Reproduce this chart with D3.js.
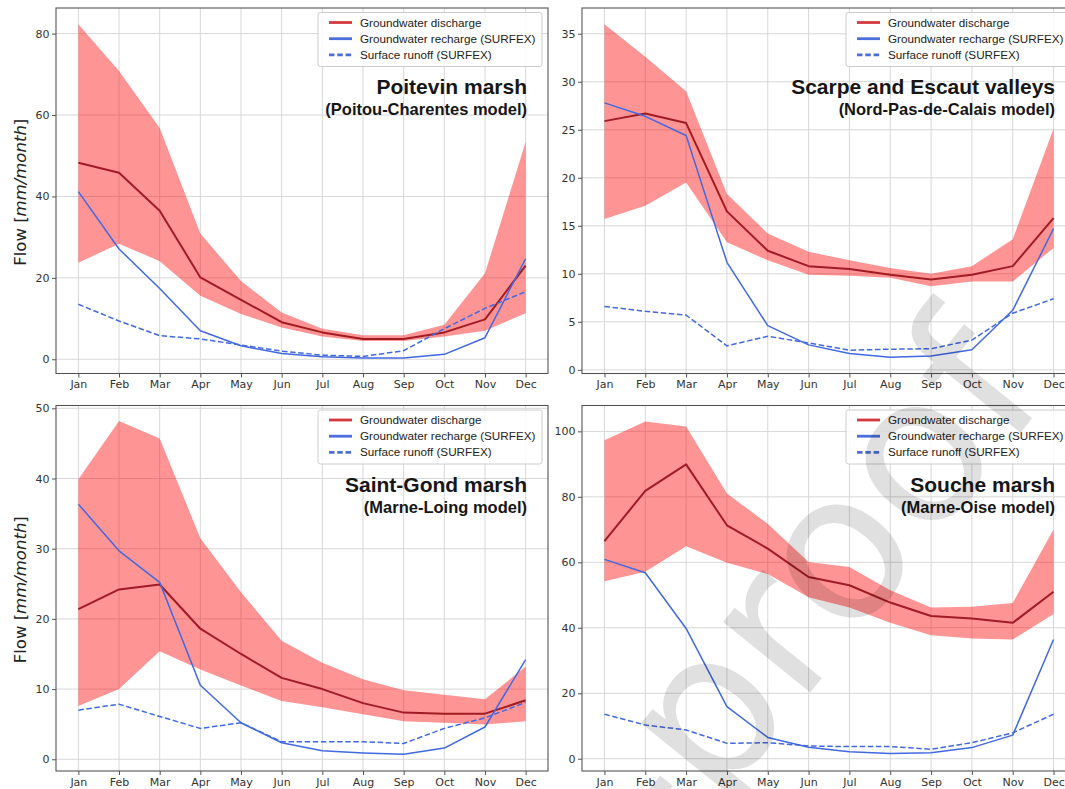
<!DOCTYPE html>
<html><head><meta charset="utf-8">
<script src="https://cdn.jsdelivr.net/npm/d3@7"></script>
<style>body{margin:0;background:#fff} svg{display:block}</style>
</head><body>
<svg id="c" width="1065" height="789"></svg>
<script>
const months = ["Jan","Feb","Mar","Apr","May","Jun","Jul","Aug","Sep","Oct","Nov","Dec"];
const legendLabels = ["Groundwater discharge","Groundwater recharge (SURFEX)","Surface runoff (SURFEX)"];
const titles = ["Poitevin marsh","Scarpe and Escaut valleys","Saint-Gond marsh","Souche marsh"];
const subtitles = ["(Poitou-Charentes model)","(Nord-Pas-de-Calais model)","(Marne-Loing model)","(Marne-Oise model)"];

const poitevinDischarge = [48.3,45.8,36.5,20.1,14.6,9.1,6.6,5.0,5.0,6.6,9.8,23.0];
const poitevinUpper     = [82.3,70.8,56.8,30.9,19.2,11.5,7.5,5.9,5.9,8.5,21.1,53.4];
const poitevinLower     = [23.7,28.4,24.1,15.6,11.1,7.8,5.6,4.5,4.5,5.6,7.0,11.3];
const poitevinRecharge  = [41.2,27.1,17.4,7.0,3.3,1.4,0.6,0.3,0.3,1.2,5.3,24.7];
const poitevinRunoff    = [13.5,9.4,5.8,5.0,3.5,2.0,1.0,0.7,2.1,7.5,12.5,16.6];

const scarpeDischarge = [25.9,26.7,25.7,16.5,12.4,10.8,10.5,9.9,9.4,9.9,10.8,15.8];
const scarpeUpper     = [36.0,32.6,29.0,18.3,14.2,12.3,11.4,10.6,10.0,10.8,13.6,25.1];
const scarpeLower     = [15.7,17.1,19.5,13.3,11.4,9.9,9.8,9.6,8.7,9.2,9.2,12.7];
const scarpeRecharge  = [27.8,26.4,24.4,11.2,4.6,2.6,1.7,1.3,1.45,2.1,6.2,14.7];
const scarpeRunoff    = [6.6,6.1,5.7,2.5,3.5,2.8,2.05,2.15,2.2,3.1,5.9,7.4];

const saintGondDischarge = [21.4,24.2,24.9,18.6,15.0,11.6,10.0,8.0,6.65,6.5,6.5,8.4];
const saintGondUpper     = [39.9,48.2,45.7,31.5,23.8,16.9,13.75,11.4,9.85,9.2,8.55,13.2];
const saintGondLower     = [7.6,10.0,15.4,12.8,10.5,8.3,7.4,6.4,5.4,5.2,4.95,5.4];
const saintGondRecharge  = [36.35,29.7,25.2,10.55,5.2,2.35,1.2,0.9,0.7,1.6,4.6,14.2];
const saintGondRunoff    = [7.0,7.85,6.1,4.4,5.2,2.5,2.5,2.5,2.25,4.4,5.9,8.1];

const soucheDischarge = [66.5,81.8,89.9,71.3,64.2,55.5,53.0,47.7,43.6,42.8,41.5,51.0];
const soucheUpper     = [97.3,103.0,101.5,81.0,71.8,60.1,58.6,51.5,46.2,46.4,47.6,70.0];
const soucheLower     = [54.2,57.1,64.9,59.9,56.4,49.3,46.2,41.5,37.7,36.7,36.4,44.2];
const soucheRecharge  = [60.9,56.8,39.8,15.9,6.5,3.5,2.1,1.6,1.8,3.4,7.2,36.4];
const soucheRunoff    = [13.6,10.3,8.8,4.7,4.9,3.9,3.7,3.7,2.9,4.9,7.9,13.6];

const poitevinTicks = [0,20,40,60,80];
const scarpeTicks = [0,5,10,15,20,25,30,35];
const saintGondTicks = [0,10,20,30,40,50];
const soucheTicks = [0,20,40,60,80,100];

const panels = [
  {i:0,col:0,row:0,discharge:poitevinDischarge,upper:poitevinUpper,lower:poitevinLower,recharge:poitevinRecharge,runoff:poitevinRunoff,ticks:poitevinTicks,domain:[-3.5,86.3],ylabel:true},
  {i:1,col:1,row:0,discharge:scarpeDischarge,upper:scarpeUpper,lower:scarpeLower,recharge:scarpeRecharge,runoff:scarpeRunoff,ticks:scarpeTicks,domain:[-0.38,37.68],ylabel:false},
  {i:2,col:0,row:1,discharge:saintGondDischarge,upper:saintGondUpper,lower:saintGondLower,recharge:saintGondRecharge,runoff:saintGondRunoff,ticks:saintGondTicks,domain:[-1.67,50.4],ylabel:true},
  {i:3,col:1,row:1,discharge:soucheDischarge,upper:soucheUpper,lower:soucheLower,recharge:soucheRecharge,runoff:soucheRunoff,ticks:soucheTicks,domain:[-3.75,107.9],ylabel:false}
];

const cols = [[56,548],[582,1076]];
const rows = [[8,373.5],[405.5,771]];

const C = {fill:"#ff0000", fillOp:0.42, dark:"#a01c22", legRed:"#d4383f", blue:"#4169e1", grid:"#d7d7d7", frame:"#555555", tick:"#333"};

const svg = d3.select("#c");
const defs = svg.append("defs");

panels.forEach(p => {
  const [x0,x1] = cols[p.col], [y0,y1] = rows[p.row];
  const x = d3.scaleLinear().domain([-0.55,11.55]).range([x0,x1]);
  const y = d3.scaleLinear().domain(p.domain).range([y1,y0]);
  const g = svg.append("g");
  const cid = "clip"+p.i;
  defs.append("clipPath").attr("id",cid).append("rect").attr("x",x0).attr("y",y0).attr("width",x1-x0).attr("height",y1-y0);

  // grid
  const grid = g.append("g").attr("clip-path",`url(#${cid})`);
  grid.selectAll("line.vx").data(d3.range(12)).join("line")
    .attr("x1",d=>x(d)).attr("x2",d=>x(d)).attr("y1",y0).attr("y2",y1)
    .attr("stroke",C.grid).attr("stroke-width",1);
  grid.selectAll("line.hy").data(p.ticks).join("line")
    .attr("x1",x0).attr("x2",x1).attr("y1",d=>y(d)).attr("y2",d=>y(d))
    .attr("stroke",C.grid).attr("stroke-width",1);

  const plot = g.append("g").attr("clip-path",`url(#${cid})`);
  const area = d3.area().x((d,i)=>x(i)).y0((d,i)=>y(p.lower[i])).y1(d=>y(d));
  plot.append("path").datum(p.upper).attr("d",area).attr("fill",C.fill).attr("fill-opacity",C.fillOp);
  const line = d3.line().x((d,i)=>x(i)).y(d=>y(d));
  plot.append("path").datum(p.discharge).attr("d",line).attr("fill","none")
    .attr("stroke",C.dark).attr("stroke-width",2).attr("stroke-linejoin","round");
  plot.append("path").datum(p.recharge).attr("d",line).attr("fill","none")
    .attr("stroke",C.blue).attr("stroke-width",1.5).attr("stroke-linejoin","round");
  plot.append("path").datum(p.runoff).attr("d",line).attr("fill","none")
    .attr("stroke",C.blue).attr("stroke-width",1.5).attr("stroke-dasharray","5.5,2.6");

  // frame
  g.append("rect").attr("x",x0).attr("y",y0).attr("width",x1-x0).attr("height",y1-y0)
    .attr("fill","none").attr("stroke",C.frame).attr("stroke-width",1.1);

  // axes
  const xa = d3.axisBottom(x).tickValues(d3.range(12)).tickFormat(i=>months[i]).tickSize(4).tickPadding(3);
  const ya = d3.axisLeft(y).tickValues(p.ticks).tickFormat(d3.format("d")).tickSize(4).tickPadding(2.5);
  [g.append("g").attr("transform",`translate(0,${y1})`).call(xa),
   g.append("g").attr("transform",`translate(${x0},0)`).call(ya)].forEach(a=>{
     a.select(".domain").remove();
     a.selectAll(".tick line").attr("stroke",C.frame);
     a.selectAll(".tick text").attr("fill",C.tick).style("font-family","'DejaVu Sans'").style("font-size","11px");
   });

  if (p.ylabel) {
    const t = g.append("text").attr("transform",`translate(26,${(y0+y1)/2+1.5}) rotate(-90)`)
      .attr("text-anchor","middle").attr("fill","#222")
      .style("font-family","'DejaVu Sans'").style("font-size","16.5px");
    t.append("tspan").text("Flow [");
    t.append("tspan").style("font-style","italic").text("mm/month");
    t.append("tspan").text("]");
  }

  // titles
  g.append("text").attr("x",x1-21).attr("y",y0+86).attr("text-anchor","end").attr("fill","#161616")
    .style("font-family","'Liberation Sans'").style("font-weight","bold").style("font-size","21px").text(titles[p.i]);
  g.append("text").attr("x",x1-21).attr("y",y0+107).attr("text-anchor","end").attr("fill","#161616")
    .style("font-family","'Liberation Sans'").style("font-weight","bold").style("font-size","16.5px").text(subtitles[p.i]);

  // legend
  const lg = g.append("g");
  lg.append("rect").attr("x",x1-230).attr("y",y0+4.5).attr("width",224).attr("height",54).attr("rx",2.5)
    .attr("fill","#fff").attr("fill-opacity",0.85).attr("stroke","#cccccc").attr("stroke-width",1);
  const styles = [{c:C.legRed,d:null},{c:"#4a6fdc",d:null},{c:"#4a6fdc",d:"5.5,2.8"}];
  legendLabels.forEach((lab,k)=>{
    const cy = y0 + 14.5 + k*16.2;
    lg.append("line").attr("x1",x1-219).attr("x2",x1-196).attr("y1",cy).attr("y2",cy)
      .attr("stroke",styles[k].c).attr("stroke-width",2.8).attr("stroke-dasharray",styles[k].d);
    lg.append("text").attr("x",x1-188).attr("y",cy+4).attr("fill","#222")
      .style("font-family","'Liberation Sans'").style("font-size","11.7px").text(lab);
  });
});

// watermark (page overlay, partially off-page as in the reference)
svg.append("text").attr("transform","translate(1052,394) rotate(-51)").attr("text-anchor","end")
  .attr("fill","#000").attr("fill-opacity",0.12)
  .style("font-family","'DejaVu Sans'").style("font-size","205px").text("Journal Pre-proof");
</script>
</body></html>
